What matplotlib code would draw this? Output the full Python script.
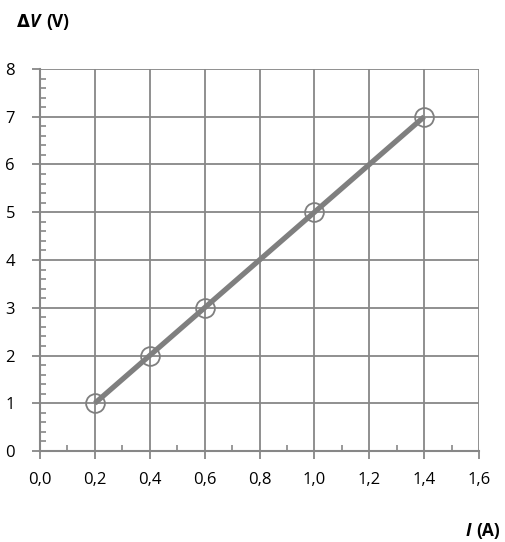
import matplotlib
matplotlib.use('Agg')
from matplotlib import pyplot as plt
from matplotlib.ticker import MultipleLocator, FuncFormatter

# measured points
current = [0.2, 0.4, 0.6, 1.0, 1.4]
voltage = [1, 2, 3, 5, 7]
x_ticks = [0.0, 0.2, 0.4, 0.6, 0.8, 1.0, 1.2, 1.4, 1.6]
y_ticks = [0, 1, 2, 3, 4, 5, 6, 7, 8]

plt.rcParams['font.family'] = ['Open Sans', 'DejaVu Sans']
grey = '#878787'

fig = plt.figure(figsize=(5.05, 5.42), dpi=100)
ax = fig.add_axes([40/505, 91/542, 439/505, 382/542])

ax.plot(current, voltage, color='#7f7f7f', lw=3.8, solid_capstyle='butt', zorder=3)
ax.plot(current, voltage, 'o', ms=13.5, mfc='none', mec='#7f7f7f', mew=1.3, zorder=4)

ax.set_xlim(0, 1.6)
ax.set_ylim(0, 8)
ax.set_xticks(x_ticks)
ax.set_yticks(y_ticks)
ax.xaxis.set_minor_locator(MultipleLocator(0.1))
ax.yaxis.set_minor_locator(MultipleLocator(0.2))
ax.xaxis.set_major_formatter(FuncFormatter(lambda v, p: f'{v:.1f}'.replace('.', ',')))

ax.grid(True, which='major', color=grey, lw=1.3)
for s in ['top', 'right']:
    ax.spines[s].set_visible(False)
for s in ['left', 'bottom']:
    ax.spines[s].set_color(grey)
    ax.spines[s].set_linewidth(1.5)
ax.tick_params(which='major', direction='out', length=6, width=1.3, color=grey,
               labelsize=12, pad=9)
ax.tick_params(axis='y', which='major', pad=12)
ax.tick_params(which='minor', direction='in', length=4, width=1.2, color=grey)

fig.text(17/505, 1 - 22/542, '\u0394', fontsize=12, fontweight='bold', va='center',
         family='DejaVu Sans')
fig.text(29/505, 1 - 22/542, 'V', fontsize=12.5, fontweight='bold', style='italic', va='center')
fig.text(46/505, 1 - 22/542, '(V)', fontsize=12.5, fontweight='bold', va='center')
fig.text(466/505, 1 - 531/542, 'I', fontsize=12.5, fontweight='bold', style='italic', va='center')
fig.text(476/505, 1 - 531/542, '(A)', fontsize=12.5, fontweight='bold', va='center')

fig.savefig('out.png', dpi=100)
